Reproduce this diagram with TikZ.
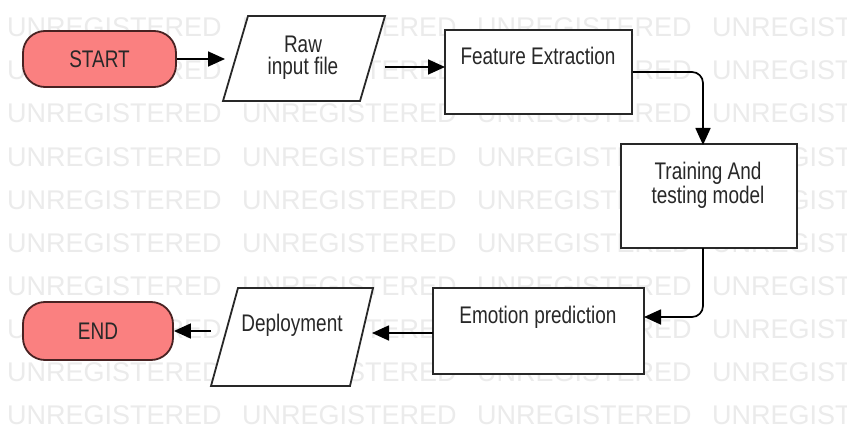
\documentclass[tikz,border=0pt]{standalone}
\usepackage{fontspec}
\setmainfont{Liberation Sans}
\newfontfamily\nodefont{Liberation Sans}[FakeStretch=0.79]
\usetikzlibrary{arrows.meta}
\definecolor{term}{RGB}{250,128,128}
\definecolor{ink}{RGB}{40,40,40}
\definecolor{wm}{RGB}{235,235,235}
\begin{document}
\begin{tikzpicture}[x=1pt,y=-1pt,
  box/.style={draw=ink, line width=1.8pt, fill=white, inner sep=0pt},
  termbox/.style={draw=ink!85!red, line width=1.8pt, fill=term, rounded corners=22pt, inner sep=0pt,
     font=\nodefont\fontsize{24}{22}\selectfont, text=ink},
  lbl/.style={font=\nodefont\fontsize{24}{22}\selectfont, text=ink, inner sep=0pt, anchor=base, align=center},
  arr/.style={draw=black, line width=1.7pt, -{Triangle[length=17pt,width=15pt]}},
  wmtext/.style={font=\fontsize{27}{27}\selectfont, text=wm, inner sep=0pt, anchor=base west}]

\useasboundingbox (0,0) rectangle (847,428);
\fill[white] (0,0) rectangle (847,428);

% watermark
\foreach \r in {0,...,9}{
  \foreach \c in {0,...,3}{
    \node[wmtext] (wm-\r-\c) at (7+235*\c, 37+43*\r) {UNREGISTERED};
  }
}

% terminals
\node[termbox, minimum width=153, minimum height=56] (start) at (99.5,59) {START};
\node[termbox, minimum width=150, minimum height=58] (end) at (98,331) {END};

% process boxes
\node[box, minimum width=187, minimum height=84] (feat) at (538.5,72) {};
\node[box, minimum width=176, minimum height=104] (train) at (709,196) {};
\node[box, minimum width=211, minimum height=86] (emo) at (538.5,331) {};

% input/output parallelograms
\draw[box] (248,16) -- (385,16) -- (360,101) -- (223,101) -- cycle;
\draw[box] (238,288) -- (373,288) -- (350,386) -- (211,386) -- cycle;

% labels (base anchor = baseline of the last line)
\node[lbl] (rawT) at (303,75) {Raw\\input file};
\node[lbl] (featT) at (538,65) {Feature Extraction};
\node[lbl] (trainT) at (708,203) {Training And\\testing model};
\node[lbl] (emoT) at (538,323) {Emotion prediction};
\node[lbl] (depT) at (292,331) {Deployment};

% connector ends
\coordinate (rawIn) at (225,59);
\coordinate (rawOut) at (385,67);
\coordinate (featIn) at (445,67);
\coordinate (trainIn) at (703,145);
\coordinate (trainOut) at (703,248);
\coordinate (emoIn) at (644,317);
\coordinate (emoOut) at (433,333);
\coordinate (depIn) at (372,333);
\coordinate (depOut) at (211,331);

% connectors
\draw[arr] (start.east) -- (rawIn);
\draw[arr] (rawOut) -- (featIn);
\draw[arr, rounded corners=11pt] (feat.east) -| (trainIn);
\draw[arr, rounded corners=11pt] (trainOut) |- (emoIn);
\draw[arr] (emoOut) -- (depIn);
\draw[arr] (depOut) -- (end.east);
\end{tikzpicture}
\end{document}
